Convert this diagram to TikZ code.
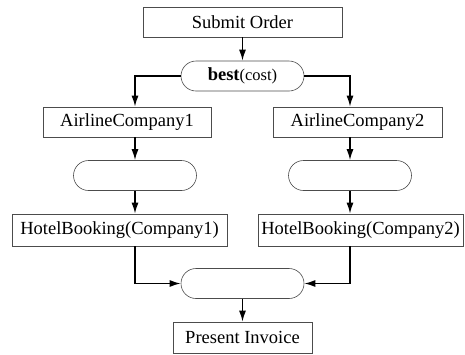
\documentclass[tikz,border=0pt]{standalone}
\usepackage{fontspec}
\setmainfont{Liberation Serif}
\usetikzlibrary{arrows.meta,shapes.misc}
\begin{document}
\begin{tikzpicture}[x=1pt,y=-1pt,
  box/.style={draw=black!70,line width=0.6pt,rectangle,inner sep=0pt,font=\fontsize{18.5}{21}\selectfont,minimum height=30pt},
  pill/.style={draw=black!70,line width=0.6pt,rounded rectangle,inner sep=0pt,minimum width=123pt,minimum height=30pt,font=\fontsize{18.5}{21}\selectfont},
  conn/.style={line width=1.5pt,-{Latex[length=11pt,width=7pt]}}]
\useasboundingbox (0,0) rectangle (465,354);
\node[box,minimum width=199pt] (submit) at (242.5,22) {Submit Order};
\node[pill] (best) at (242.5,76) {\textbf{best}{\fontsize{16.5}{19}\selectfont(cost)}};
\node[box,minimum width=168pt] (a1) at (127,122) {AirlineCompany1};
\node[box,minimum width=169pt] (a2) at (357.5,122) {AirlineCompany2};
\node[pill] (p1) at (135,175.5) {};
\node[pill] (p2) at (350,175.5) {};
\node[box,minimum width=215pt,minimum height=32pt] (h1) at (119.5,230) {HotelBooking(Company1)};
\node[box,minimum width=205pt,minimum height=32pt] (h2) at (360.5,230) {HotelBooking(Company2)};
\node[pill] (join) at (242.5,283.5) {};
\node[box,minimum width=139pt,minimum height=31pt] (inv) at (242.5,337.5) {Present Invoice};
\draw[conn] (submit) -- (best);
\draw[conn] (best.west) -| (a1.north -| p1.north);
\draw[conn] (best.east) -| (a2.north -| p2.north);
\draw[conn] (a1.south -| p1.north) -- (p1.north);
\draw[conn] (a2.south -| p2.north) -- (p2.north);
\draw[conn] (p1.south) -- (h1.north -| p1.south);
\draw[conn] (p2.south) -- (h2.north -| p2.south);
\draw[conn] (h1.south -| p1.south) |- (join.west);
\draw[conn] (h2.south -| p2.south) |- (join.east);
\draw[conn] (join) -- (inv);
\end{tikzpicture}
\end{document}
